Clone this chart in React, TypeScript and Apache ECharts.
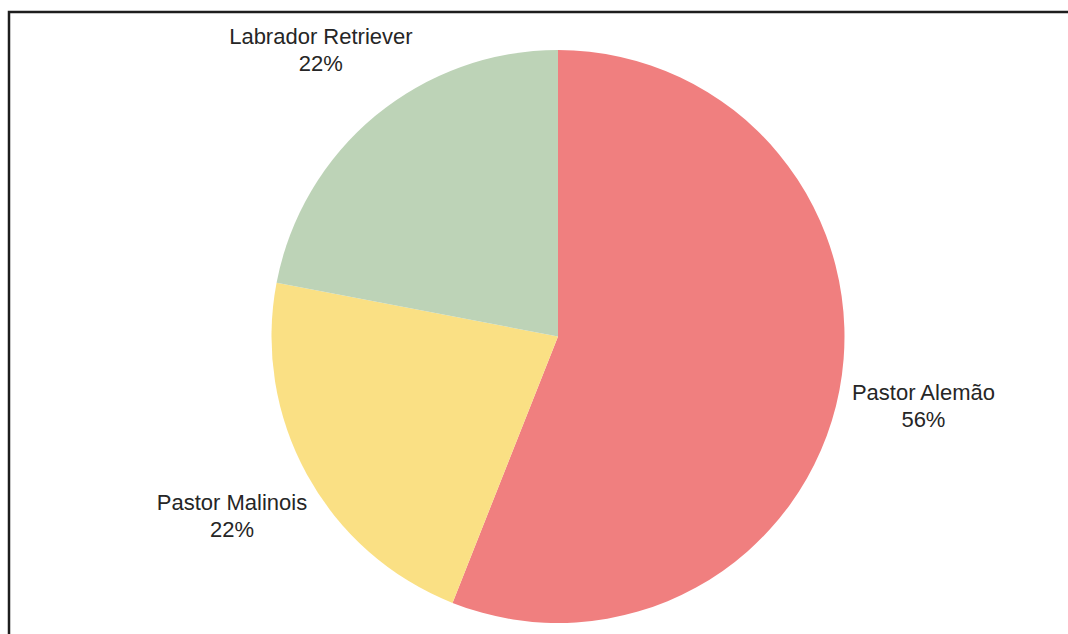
import React, { useEffect, useRef } from "react";
import * as echarts from "echarts";

const categories = ["Pastor Alemão", "Pastor Malinois", "Labrador Retriever"];
const values = [56, 22, 22];
const colors = ["#F07F7F", "#FAE084", "#BDD3B7"];

export default function App() {
  const ref = useRef<HTMLDivElement>(null);

  useEffect(() => {
    if (!ref.current) return;
    const chart = echarts.init(ref.current, null, { renderer: "svg" });
    const data = categories.map((name, i) => ({
      name,
      value: values[i],
      itemStyle: { color: colors[i] },
    }));
    const labelData = categories.map((name, i) => ({
      name,
      value: values[i],
    }));
    chart.setOption({
      animation: false,
      backgroundColor: "#ffffff",
      graphic: [
        {
          type: "rect",
          shape: { x: 9, y: 12, width: 1200, height: 800 },
          style: { fill: "none", stroke: "#1e1e1e", lineWidth: 2.5 },
          silent: true,
          z: 100,
        },
      ],
      series: [
        {
          type: "pie",
          center: [558, 336.5],
          radius: 286.5,
          startAngle: 90,
          clockwise: true,
          silent: true,
          label: { show: false },
          labelLine: { show: false },
          itemStyle: { borderWidth: 0 },
          data,
        },
        {
          type: "pie",
          center: [558, 336.5],
          radius: [368, 370],
          startAngle: 90,
          clockwise: true,
          silent: true,
          itemStyle: { color: "rgba(0,0,0,0)", borderWidth: 0 },
          label: {
            show: true,
            position: "inside",
            formatter: "{b}\n{c}%",
            fontFamily: "Liberation Sans, Arial, sans-serif",
            fontSize: 22,
            lineHeight: 27,
            color: "#262626",
            align: "center",
          },
          labelLine: { show: false },
          data: labelData,
        },
      ],
    });
    return () => chart.dispose();
  }, []);

  return (
    <div
      ref={ref}
      style={{ position: "fixed", left: 0, top: 0, width: 1068, height: 634 }}
    />
  );
}
